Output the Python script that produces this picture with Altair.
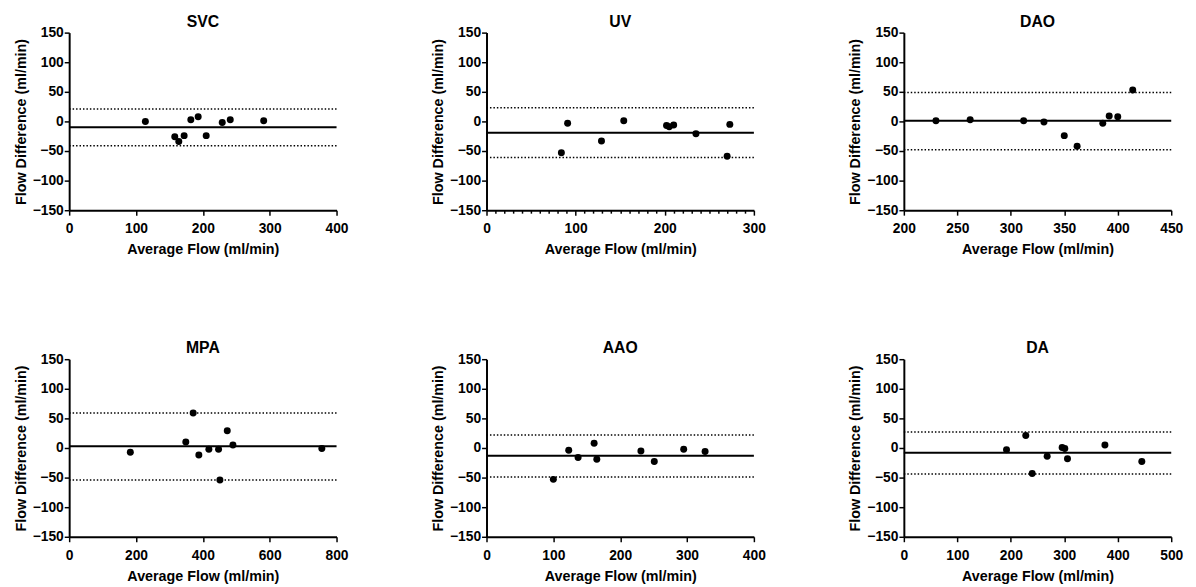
import altair as alt
import pandas as pd

FONT = "Liberation Sans"

panels = ["SVC", "UV", "DAO", "MPA", "AAO", "DA"]

svc_x = [114, 158, 164, 172, 182, 193, 205, 229, 241, 291]
svc_y = [0, -26, -34, -24, 3, 8, -24, -2, 3, 1]
uv_x = [84, 91, 129, 154, 202, 205, 210, 235, 270, 273]
uv_y = [-53, -3, -33, 1, -7, -9, -6, -21, -59, -5]
dao_x = [230, 262, 312, 331, 350, 362, 386, 392, 400, 414]
dao_y = [1, 3, 1, -1, -24, -42, -3, 9, 8, 53]
mpa_x = [183, 349, 371, 388, 418, 447, 451, 473, 490, 756]
mpa_y = [-7, 10, 59, -12, -2, -2, -54, 29, 5, -1]
aao_x = [100, 123, 137, 161, 165, 231, 251, 295, 327]
aao_y = [-53, -4, -16, 8, -19, -5, -23, -2, -6]
da_x = [192, 228, 240, 268, 296, 301, 306, 376, 445]
da_y = [-3, 21, -43, -14, 1, -1, -18, 5, -23]

means = [-10, -19, 1, 3, -13, -8]
uppers = [21, 23, 49, 59, 22, 27]
lowers = [-41, -61, -48, -54, -49, -44]

x_domains = [[0, 400], [0, 300], [200, 450], [0, 800], [0, 400], [0, 500]]
x_steps = [100, 100, 50, 200, 100, 100]

xs = [svc_x, uv_x, dao_x, mpa_x, aao_x, da_x]
ys = [svc_y, uv_y, dao_y, mpa_y, aao_y, da_y]

y_ticks = [-150, -100, -50, 0, 50, 100, 150]

W, H = 271, 180


def panel(i):
    name = panels[i]
    lo, hi = x_domains[i]
    step = x_steps[i]
    pts = pd.DataFrame({"x": xs[i], "y": ys[i]})
    if name == "UV":
        vals = list(range(lo, hi + 1, 10))
        xaxis = alt.Axis(
            values=vals,
            labelExpr="datum.value % 100 === 0 ? datum.label : ''",
            tickSize={"condition": {"test": "datum.value % 100 === 0", "value": 5}, "value": 3},
            labelOverlap=False,
            labelFlush=False,
            title="Average Flow (ml/min)",
        )
    else:
        xaxis = alt.Axis(values=list(range(lo, hi + 1, step)), labelFlush=False,
                         labelOverlap=False, title="Average Flow (ml/min)")
    xenc = alt.X("x:Q", scale=alt.Scale(domain=[lo, hi], nice=False, zero=False), axis=xaxis)
    yaxis = alt.Axis(values=y_ticks, labelOverlap=False, labelFlush=False,
                     title="Flow Difference (ml/min)")
    yscale = alt.Scale(domain=[-150, 150], nice=False)
    points = alt.Chart(pts).mark_circle(size=50, color="black", opacity=1).encode(
        x=xenc, y=alt.Y("y:Q", scale=yscale, axis=yaxis)
    )
    mean_df = pd.DataFrame({"y": [means[i]]})
    lim_df = pd.DataFrame({"y": [uppers[i], lowers[i]]})
    mean_rule = alt.Chart(mean_df).mark_rule(color="black", strokeWidth=2).encode(
        y=alt.Y("y:Q", scale=yscale, axis=yaxis)
    )
    lim_rule = alt.Chart(lim_df).mark_rule(color="black", strokeWidth=1.5, strokeDash=[1.5, 2]).encode(
        y=alt.Y("y:Q", scale=yscale, axis=yaxis)
    )
    return alt.layer(lim_rule, mean_rule, points).properties(
        width=W, height=H, title=alt.TitleParams(name)
    )


row1 = alt.hconcat(panel(0), panel(1), panel(2), spacing=83)
row2 = alt.hconcat(panel(3), panel(4), panel(5), spacing=83)
chart = alt.vconcat(row1, row2, spacing=85).properties(
    padding={"top": 2, "left": 5, "right": 5, "bottom": 5}
).configure_view(stroke=None).configure_axis(
    domainColor="black",
    domainWidth=2,
    tickColor="black",
    tickWidth=1.5,
    tickSize=5,
    grid=False,
    labelFont=FONT,
    labelFontSize=14,
    labelFontWeight="bold",
    labelColor="black",
    labelPadding=1,
    titleFont=FONT,
    titleFontSize=14.5,
    titleFontWeight="bold",
    titleColor="black",
    titlePadding=4,
).configure_axisX(labelPadding=7, titlePadding=7).configure_title(
    font=FONT, fontSize=16, fontWeight="bold", color="black", offset=-4, anchor="middle"
)

chart.save("out.html", embed_options={"renderer": "svg", "actions": False})
